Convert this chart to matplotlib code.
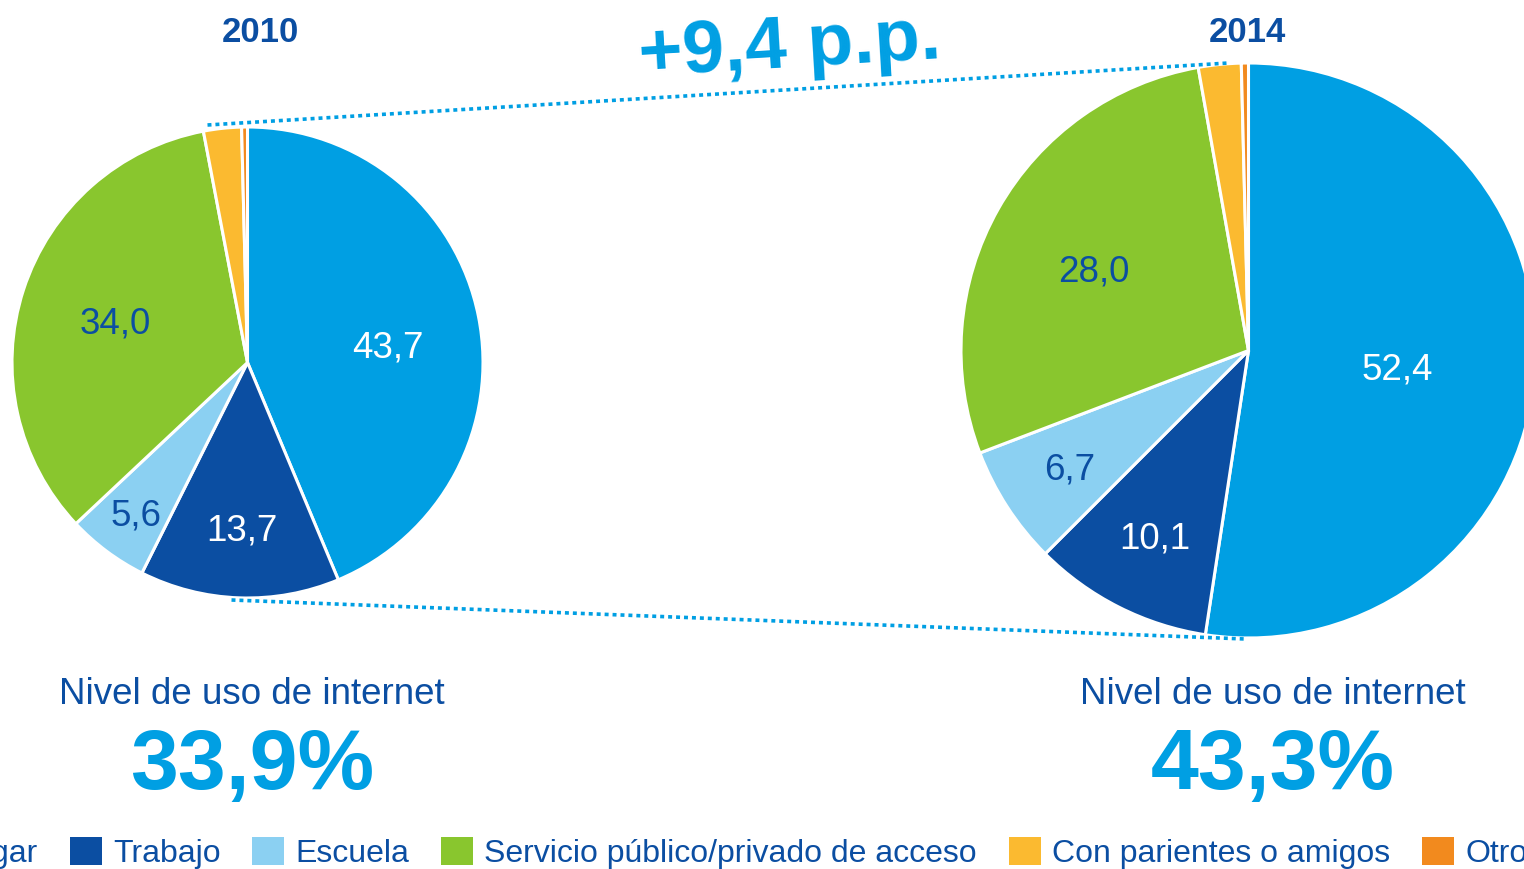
import matplotlib
matplotlib.use("Agg")
import matplotlib.pyplot as plt
import numpy as np

plt.rcParams['font.family'] = ['Liberation Sans', 'DejaVu Sans']

# Data
categories = ['Hogar', 'Trabajo', 'Escuela', 'Servicio público/privado de acceso',
              'Con parientes o amigos', 'Otros']
values_2010 = [43.7, 13.7, 5.6, 34.0, 2.6, 0.4]
values_2014 = [52.4, 10.1, 6.7, 28.0, 2.4, 0.4]
labels_2010 = ['43,7', '13,7', '5,6', '34,0', '', '']
labels_2014 = ['52,4', '10,1', '6,7', '28,0', '', '']
years = ['2010', '2014']
usage = ['33,9%', '43,3%']
delta_text = '+9,4 p.p.'

colors = ['#009FE3', '#0B4EA2', '#8BD0F2', '#89C62E', '#FBBA30', '#F28A1E']
label_colors = ['white', 'white', '#0B4EA2', '#0B4EA2', 'white', 'white']
dark_blue = '#0B4EA2'
bright_blue = '#009FE3'

W, H = 1524, 869
fig = plt.figure(figsize=(W / 100, H / 100), dpi=100)
ax = fig.add_axes([0, 0, 1, 1])

# pie geometry in pixels (y measured from bottom)
cx1, cy1, r1 = 247.5, H - 362.5, 235.5
cx2, cy2, r2 = 1248.5, H - 350.5, 287.5
# label placement: fraction of radius, angle tweak (deg)
dist_2010 = [0.60, 0.70, 0.79, 0.59]
turn_2010 = [-3.7, 0, 0, 0]
dist_2014 = [0.52, 0.72, 0.74, 0.61]
turn_2014 = [-1.5, 0, 0, 1.3]


def draw_pie(vals, labs, cx, cy, r, dists, turns):
    wedges, _ = ax.pie(vals, colors=colors, startangle=90, counterclock=False,
                       center=(cx, cy), radius=r,
                       wedgeprops=dict(edgecolor='white', linewidth=2.2))
    for i, (w, lab) in enumerate(zip(wedges, labs)):
        if not lab:
            continue
        ang = np.deg2rad((w.theta1 + w.theta2) / 2 + turns[i])
        d = dists[i] * r
        ax.text(cx + d * np.cos(ang), cy + d * np.sin(ang) - 4, lab,
                ha='center', va='center', fontsize=26.5, color=label_colors[i])
    return wedges


wedges = draw_pie(values_2010, labels_2010, cx1, cy1, r1, dist_2010, turn_2010)
draw_pie(values_2014, labels_2014, cx2, cy2, r2, dist_2014, turn_2014)

# dotted connectors
dot_style = dict(color=bright_blue, linewidth=2.6, linestyle=(0, (1.1, 1.1)))
ax.plot([cx1 - 40, cx2 - 20], [cy1 + r1 + 2, cy2 + r2 + 0], **dot_style)
ax.plot([cx1 - 16, cx2 - 3], [cy1 - r1 - 2, cy2 - r2 - 1], **dot_style)

# texts
ax.text(260, H - 33, years[0], ha='center', va='center', fontsize=25,
        fontweight='bold', color=dark_blue)
ax.text(1247, H - 33, years[1], ha='center', va='center', fontsize=25,
        fontweight='bold', color=dark_blue)
ax.text(790, H - 48, delta_text, ha='center', va='center', fontsize=54,
        fontweight='bold', color=bright_blue, rotation=3.4)

for x, u in zip([252, 1273], usage):
    ax.text(x, H - 695, 'Nivel de uso de internet', ha='center', va='center',
            fontsize=26.5, color=dark_blue)
    ax.text(x, H - 767, u, ha='center', va='center', fontsize=62,
            fontweight='bold', color=bright_blue)

# legend
leg = ax.legend(wedges, categories, loc='lower center', ncol=6,
                bbox_to_anchor=(0.476, -0.033), frameon=False, fontsize=23,
                handlelength=1.0, handleheight=1.0, handletextpad=0.35,
                columnspacing=1.0, labelcolor=dark_blue)
for h in leg.legend_handles:
    h.set_edgecolor('none')

ax.set_xlim(0, W)
ax.set_ylim(0, H)
ax.set_aspect('equal')
ax.axis('off')

fig.savefig('out.png', dpi=100)
